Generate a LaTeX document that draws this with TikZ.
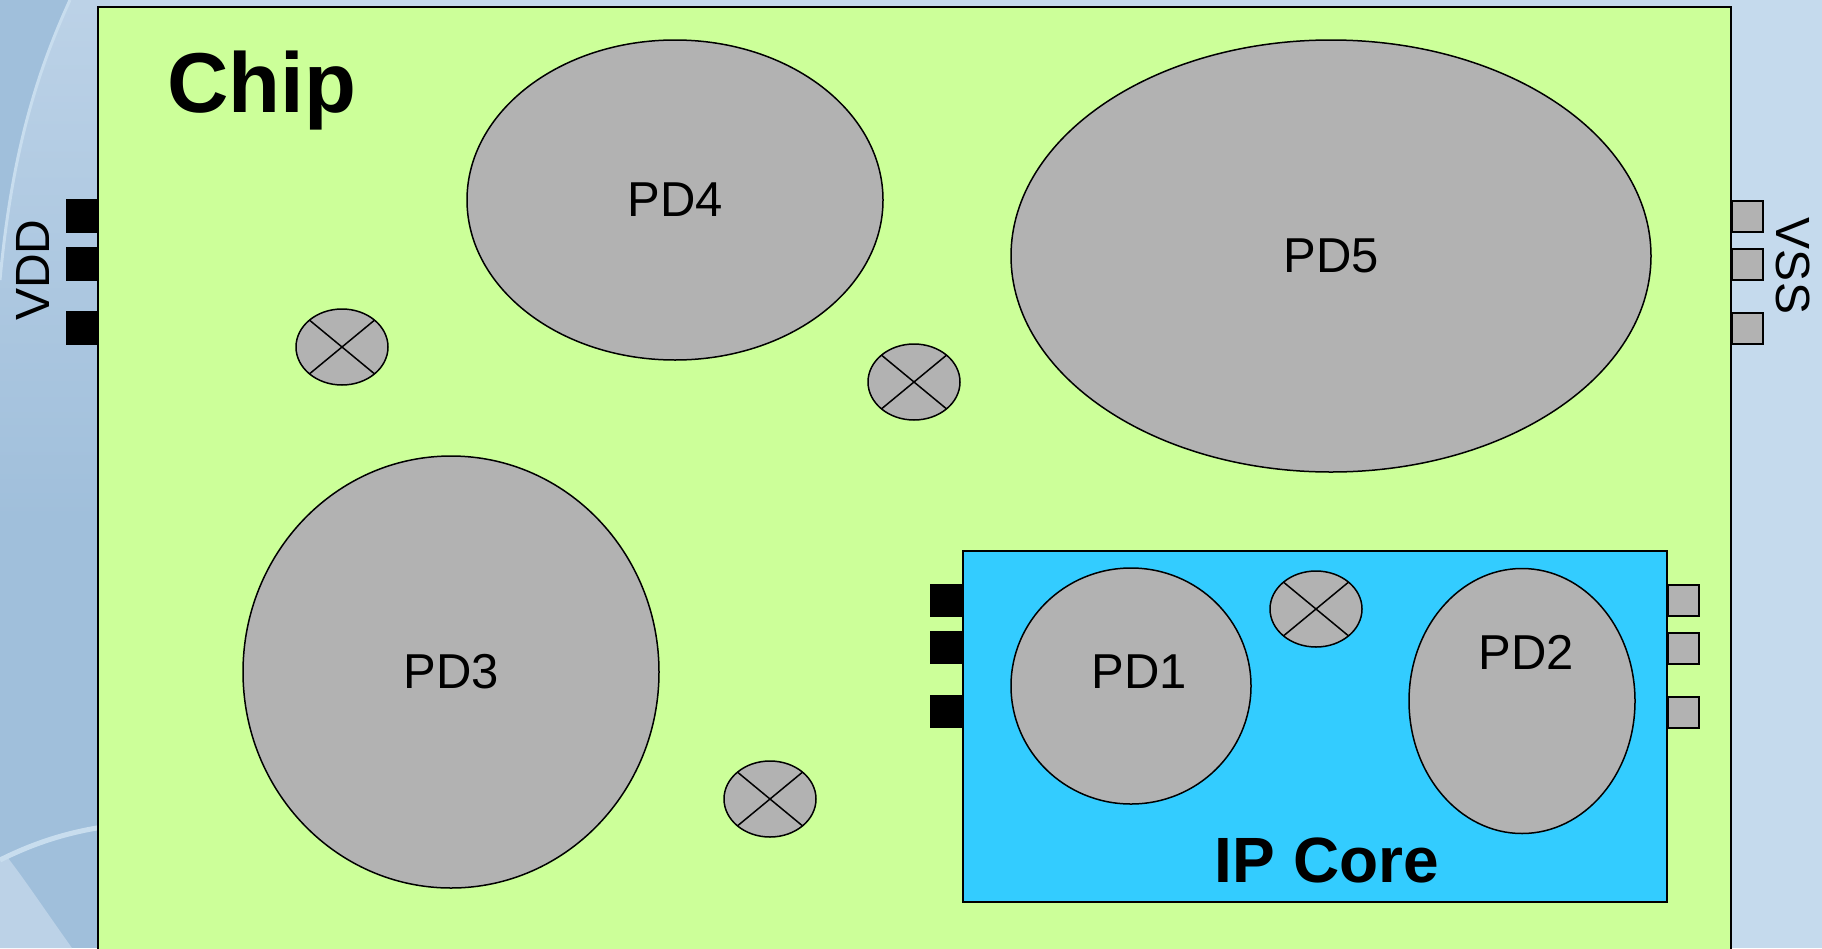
\documentclass[tikz,border=0pt]{standalone}
\usepackage{fontspec}
\setmainfont{Liberation Sans}
\usetikzlibrary{calc,shapes.geometric}

\definecolor{chipgreen}{RGB}{204,255,153}
\definecolor{corecyan}{RGB}{51,204,255}
\definecolor{domgray}{RGB}{178,178,178}
\definecolor{bgblue}{RGB}{197,218,237}
\definecolor{bgdark}{RGB}{160,191,219}
\definecolor{bglight}{RGB}{188,210,231}
\definecolor{bgpale}{RGB}{200,221,238}

\tikzset{
  chipbox/.style={draw, fill=chipgreen, line width=2pt, inner sep=0pt, outer sep=0pt, anchor=north west},
  corebox/.style={draw, fill=corecyan, line width=2pt, inner sep=0pt, outer sep=0pt, anchor=north west},
  pdomain/.style={ellipse, draw, fill=domgray, line width=1.5pt, inner sep=0pt, outer sep=0pt,
                 font=\fontsize{49}{49}\selectfont},
  pswitch/.style={ellipse, draw, fill=domgray, line width=1.5pt, inner sep=0pt, outer sep=0pt,
                 minimum width=92pt, minimum height=76pt},
  vddpin/.style={fill=black, inner sep=0pt, outer sep=0pt, minimum width=32pt, minimum height=34pt},
  vsspin/.style={draw, fill=domgray, line width=2pt, inner sep=0pt, outer sep=0pt,
                 minimum width=31pt, minimum height=31pt},
  chiptitle/.style={font=\fontsize{85}{85}\selectfont\bfseries, inner sep=0pt},
  coretitle/.style={font=\fontsize{64}{64}\selectfont\bfseries, inner sep=0pt},
  railname/.style={font=\fontsize{48}{48}\selectfont, inner sep=0pt},
  pdname/.style={font=\fontsize{49}{49}\selectfont, inner sep=0pt},
  xline/.style={line width=1.5pt}
}

\begin{document}
\begin{tikzpicture}[x=1pt, y=-1pt]
\useasboundingbox (0,0) rectangle (1822,948);
\clip (0,0) rectangle (1822,948);

% backdrop
\fill[bgblue] (0,0) rectangle (1822,948);
\fill[bgdark] (0,0) rectangle (110,948);
% upper sweep: lighter band right of a curved edge, fading downwards
\shade[top color=bglight, bottom color=bgdark]
  (70,0) .. controls (38,70) and (12,150) .. (0,280) -- (0,520) -- (110,520) -- (110,0) -- cycle;
\draw[bgpale, line width=3pt] (70,0) .. controls (38,70) and (12,150) .. (0,280);
% lower sweep
\fill[bglight] (0,858) -- (0,948) -- (72,948) .. controls (45,910) and (25,880) .. (8,858) -- cycle;
\draw[bgpale, line width=5pt] (0,860) .. controls (30,845) and (65,832) .. (110,826);

% chip outline
\node[chipbox, minimum width=1633pt, minimum height=960pt] (chip) at (98,7) {};
\node[chiptitle, anchor=base west] (chiplabel) at (167,112) {Chip};

% supply pins
\node[vddpin] (vdd1) at (82,216) {};
\node[vddpin] (vdd2) at (82,264) {};
\node[vddpin] (vdd3) at (82,328) {};
\node[railname, rotate=90] (vdd) at (33,270) {VDD};

\node[vsspin] (vss1) at (1747,216) {};
\node[vsspin] (vss2) at (1747,264) {};
\node[vsspin] (vss3) at (1747,328) {};
\node[railname, rotate=-90] (vss) at (1793,266) {VSS};

% power domains on the chip
\node[pdomain, minimum width=416pt, minimum height=320pt] (pd4) at (675,200) {PD4};
\node[pdomain, minimum width=640pt, minimum height=432pt] (pd5) at (1331,256) {PD5};
\node[pdomain, minimum width=416pt, minimum height=432pt] (pd3) at (451,672) {PD3};

% IP core block
\node[corebox, minimum width=704pt, minimum height=351pt] (core) at (963,551) {};
\node[coretitle, anchor=base] (corelabel) at (1327,882) {IP Core};

\node[vddpin, minimum width=33pt, minimum height=33pt] (cvdd1) at (946.5,600) {};
\node[vddpin, minimum width=33pt, minimum height=33pt] (cvdd2) at (946.5,647.5) {};
\node[vddpin, minimum width=33pt, minimum height=33pt] (cvdd3) at (946.5,711.5) {};
\node[vsspin] (cvss1) at (1683,600) {};
\node[vsspin] (cvss2) at (1683,648) {};
\node[vsspin] (cvss3) at (1683,712) {};

\node[pdomain, minimum width=240pt, minimum height=236pt] (pd1) at (1131,686) {};
\node[pdname] (pd1label) at (1139,672) {PD1};
\node[pdomain, minimum width=226pt, minimum height=265pt] (pd2) at (1522,701) {};
\node[pdname] (pd2label) at (1526,652) {PD2};

% power switches
\foreach \n/\p in {sw1/{(342,347)}, sw2/{(914,382)}, sw3/{(770,799)}, sw4/{(1316,609)}} {
  \node[pswitch] (\n) at \p {};
  \draw[xline] (\n.north west) -- (\n.south east);
  \draw[xline] (\n.north east) -- (\n.south west);
}
\end{tikzpicture}
\end{document}
